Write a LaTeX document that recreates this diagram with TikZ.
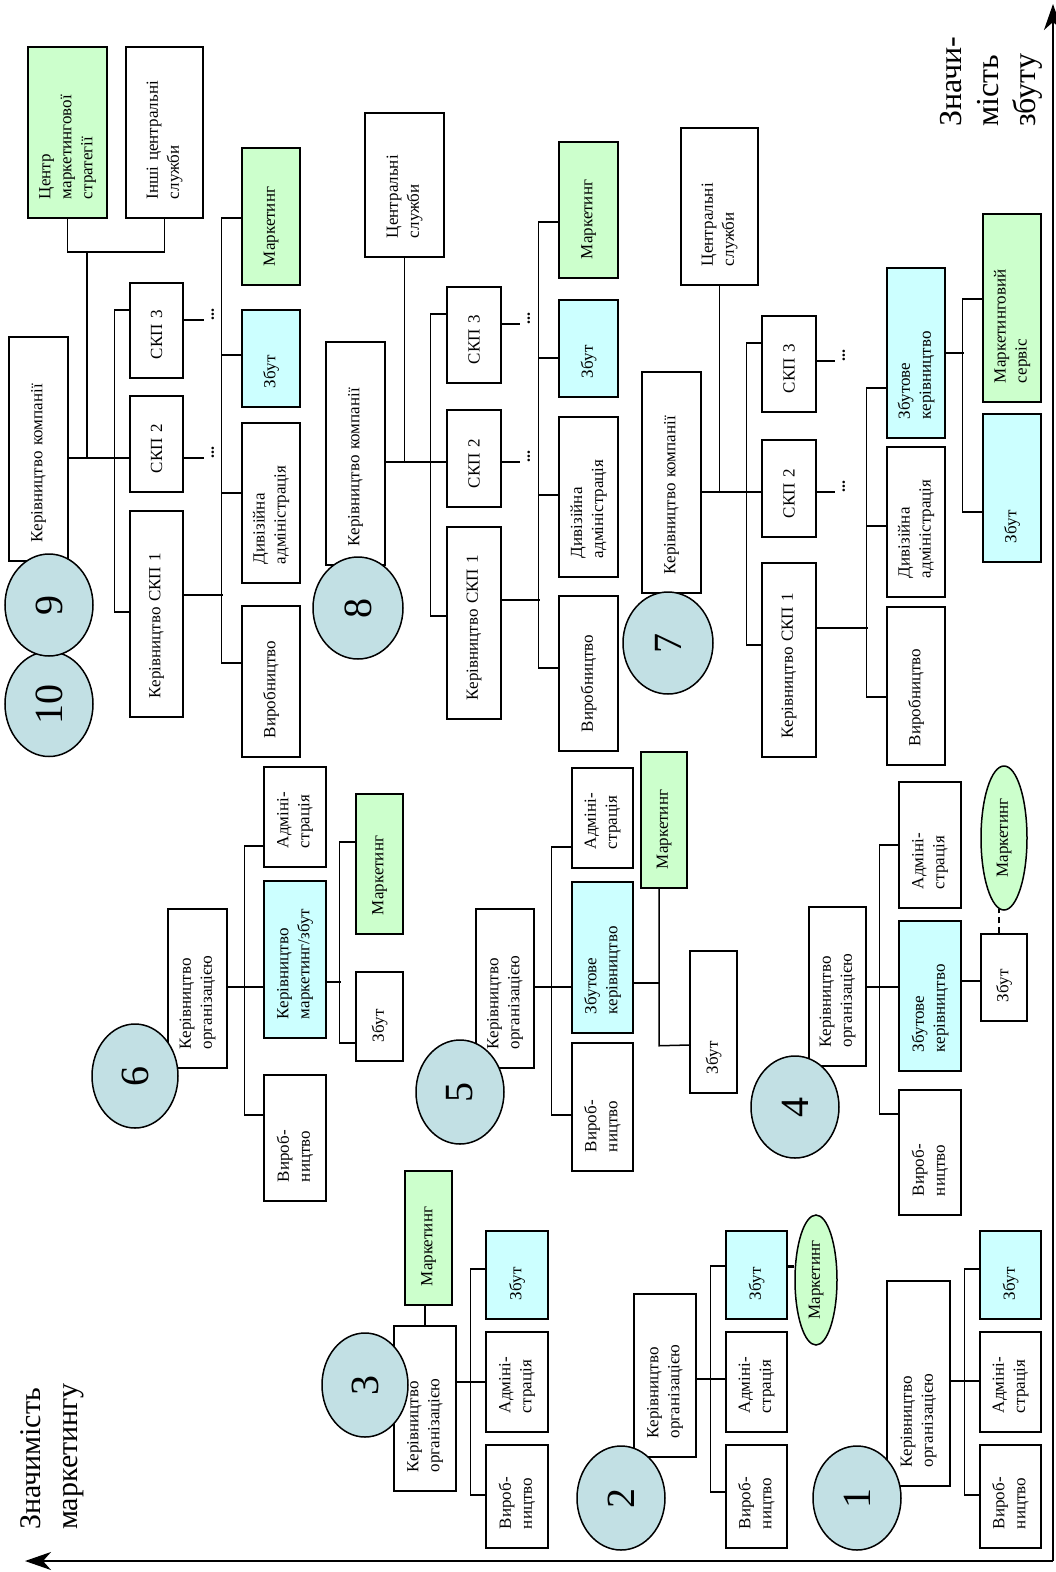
\documentclass[tikz,border=0pt]{standalone}
\usepackage{fontspec}
\setmainfont{Liberation Serif}
\usetikzlibrary{shapes.geometric,arrows.meta,calc}
\definecolor{grn}{HTML}{CCFFCC}
\definecolor{cyn}{HTML}{CCFFFF}
\definecolor{circc}{HTML}{C2E0E4}
\newcommand\bxfont{\fontsize{17}{21}\selectfont}
\newcommand\mkbox[7]{%
  \pgfmathsetmacro\bxW{#5-#3}%
  \pgfmathsetmacro\bxH{#4-#2}%
  \pgfmathsetmacro\bxT{#5-#3-38}%
  \pgfmathsetmacro\bxX{(#2+#4)/2}%
  \pgfmathsetmacro\bxY{(#3+#5)/2}%
  \node[box,#6,minimum width=\bxW pt,minimum height=\bxH pt,text width=\bxT pt] (#1) at (\bxX,\bxY) {#7};%
}
\tikzset{
  box/.style={draw, line width=1.5pt, rotate=90, align=left, inner xsep=19pt, inner ysep=0pt, font=\bxfont, fill=white},
  ln/.style={line width=1.5pt},
  circ/.style={ellipse, draw, line width=1.5pt, fill=circc, rotate=90, inner sep=0pt, font=\fontsize{40}{40}\selectfont},
  mell/.style={ellipse, draw, line width=1.5pt, fill=grn, rotate=90, inner sep=0pt, font=\bxfont},
  dots/.style={rotate=90, anchor=base west, inner sep=0pt, font=\fontsize{16}{16}\selectfont\bfseries},
  axis/.style={line width=1.8pt, -{Stealth[length=26pt,width=18pt,inset=8pt]}}
}
\begin{document}
\begin{tikzpicture}[x=1pt,y=-1pt]
\useasboundingbox (0,0) rectangle (1056,1572);
\fill[white] (0,0) rectangle (1056,1572);

% ===== Diagram 9 =====
\mkbox{c9cms}{28}{47}{107}{218}{fill=grn}{Центр\\маркетингової\\стратегії}
\mkbox{c9oth}{126}{47}{203}{218}{}{Інші центральні\\служби}
\mkbox{k9}{9}{337}{68}{561}{}{Керівництво компанії}
\mkbox{s9c}{130}{283}{183}{378}{}{СКП 3}
\mkbox{s9b}{130}{396}{183}{492}{}{СКП 2}
\mkbox{s9a}{130}{511}{183}{717}{}{Керівництво СКП 1}
\mkbox{m9}{242}{148}{300}{285}{fill=grn}{Маркетинг}
\mkbox{z9}{242}{310}{300}{407}{fill=cyn}{Збут}
\mkbox{d9}{242}{423}{300}{583}{}{Дивізійна\\адміністрація}
\mkbox{v9}{242}{606}{300}{757}{}{Виробництво}
\coordinate (j9) at (87,252);
\draw[ln] (c9cms.west) |- (j9) -| (c9oth.west);
\draw[ln] (j9) -- (j9 |- 0,458);
\draw[ln] (k9.south |- 0,458) -- (s9b.north |- 0,458);
\draw[ln] (s9c.north |- 0,310) -- ++(-15,0) |- (s9a.north |- 0,612);
\draw[ln] (s9c.south |- 0,320) -- ++(20,0);
\draw[ln] (s9b.south |- 0,458) -- ++(20,0);
\node[dots] (dt9c) at ($(s9c.south |- 0,320)+(30,1)$) {...};
\node[dots] (dt9b) at ($(s9b.south |- 0,458)+(30,1)$) {...};
\draw[ln] (s9a.south |- 0,595) -- ++(39,0);
\draw[ln] (m9.north |- 0,218) -- ++(-20,0) |- (v9.north |- 0,663);
\draw[ln] (z9.north |- 0,355) -- ++(-20,0);
\draw[ln] (d9.north |- 0,493) -- ++(-20,0);

% ===== Diagram 8 =====
\mkbox{cs8}{365}{113}{444}{257}{}{Центральні\\служби}
\mkbox{k8}{326}{342}{385}{565}{}{Керівництво компанії}
\mkbox{s8c}{447}{287}{501}{383}{}{СКП 3}
\mkbox{s8b}{447}{410}{501}{507}{}{СКП 2}
\mkbox{s8a}{447}{527}{501}{719}{}{Керівництво СКП 1}
\mkbox{m8}{559}{142}{618}{278}{fill=grn}{Маркетинг}
\mkbox{z8}{559}{300}{618}{397}{fill=cyn}{Збут}
\mkbox{d8}{559}{417}{618}{577}{}{Дивізійна\\адміністрація}
\mkbox{v8}{559}{596}{618}{751}{}{Виробництво}
\draw[ln] (cs8.west) -- (cs8.west |- 0,462);
\draw[ln] (k8.south |- 0,462) -- (s8b.north |- 0,462);
\draw[ln] (s8c.north |- 0,314) -- ++(-16,0) |- (s8a.north |- 0,616);
\draw[ln] (s8c.south |- 0,324) -- ++(18,0);
\draw[ln] (s8b.south |- 0,462) -- ++(18,0);
\node[dots] (dt8c) at ($(s8c.south |- 0,324)+(28,1)$) {...};
\node[dots] (dt8b) at ($(s8b.south |- 0,462)+(28,1)$) {...};
\draw[ln] (s8a.south |- 0,600) -- ++(38,0);
\draw[ln] (m8.north |- 0,222) -- ++(-20,0) |- (v8.north |- 0,668);
\draw[ln] (z8.north |- 0,358) -- ++(-20,0);
\draw[ln] (d8.north |- 0,495) -- ++(-20,0);

% ===== Diagram 7 =====
\mkbox{cs7}{681}{128}{758}{285}{}{Центральні\\служби}
\mkbox{k7}{642}{372}{701}{593}{}{Керівництво компанії}
\mkbox{s7c}{762}{316}{816}{412}{}{СКП 3}
\mkbox{s7b}{762}{440}{816}{537}{}{СКП 2}
\mkbox{s7a}{762}{563}{816}{757}{}{Керівництво СКП 1}
\mkbox{zk7}{887}{268}{945}{438}{fill=cyn}{Збутове\\керівництво}
\mkbox{d7}{887}{447}{945}{597}{}{Дивізійна\\адміністрація}
\mkbox{v7}{887}{607}{945}{765}{}{Виробництво}
\mkbox{ms7}{983}{214}{1041}{402}{fill=grn}{Маркетинговий\\сервіс}
\mkbox{z7}{983}{414}{1041}{562}{fill=cyn}{Збут}
\draw[ln] (cs7.west) -- (cs7.west |- 0,492);
\draw[ln] (k7.south |- 0,492) -- (s7b.north |- 0,492);
\draw[ln] (s7c.north |- 0,343) -- ++(-15,0) |- (s7a.north |- 0,645);
\draw[ln] (s7c.south |- 0,361) -- ++(18,0);
\draw[ln] (s7b.south |- 0,492) -- ++(18,0);
\node[dots] (dt7c) at ($(s7c.south |- 0,361)+(28,1)$) {...};
\node[dots] (dt7b) at ($(s7b.south |- 0,492)+(28,1)$) {...};
\draw[ln] (s7a.south |- 0,628) -- ++(51,0);
\draw[ln] (zk7.north |- 0,388) -- ++(-20,0) |- (v7.north |- 0,697);
\draw[ln] (d7.north |- 0,526) -- ++(-20,0);
\draw[ln] (zk7.south |- 0,353) -- ++(18,0);
\draw[ln] (ms7.north |- 0,299) -- ++(-20,0) |- (z7.north |- 0,512);

% ===== Diagram 6 =====
\mkbox{ko6}{168}{909}{227}{1068}{}{Керівництво\\організацією}
\mkbox{a6}{264}{767}{326}{867}{}{Адміні-\\страція}
\mkbox{km6}{264}{881}{326}{1038}{fill=cyn}{Керівництво\\маркетинг/збут}
\mkbox{v6}{264}{1075}{326}{1201}{}{Вироб-\\ництво}
\mkbox{m6}{356}{794}{403}{934}{fill=grn}{Маркетинг}
\mkbox{z6}{356}{972}{403}{1061}{}{Збут}
\draw[ln] (ko6.south |- 0,987) -- (km6.north |- 0,987);
\draw[ln] (a6.north |- 0,846) -- ++(-19,0) |- (v6.north |- 0,1115);
\draw[ln] (km6.south |- 0,982) -- ++(14,0);
\draw[ln] (m6.north |- 0,842) -- ++(-16,0) |- (z6.north |- 0,1043);

% ===== Diagram 5 =====
\mkbox{ko5}{476}{909}{534}{1068}{}{Керівництво\\організацією}
\mkbox{a5}{572}{768}{633}{868}{}{Адміні-\\страція}
\mkbox{zk5}{572}{882}{633}{1033}{fill=cyn}{Збутове\\керівництво}
\mkbox{v5}{572}{1043}{633}{1171}{}{Вироб-\\ництво}
\mkbox{m5}{641}{752}{687}{888}{fill=grn}{Маркетинг}
\mkbox{z5}{690}{951}{737}{1093}{}{Збут}
\draw[ln] (ko5.south |- 0,987) -- (zk5.north |- 0,987);
\draw[ln] (a5.north |- 0,847) -- ++(-20,0) |- (v5.north |- 0,1115);
\draw[ln] (zk5.south |- 0,983) -- ++(26,0);
\draw[ln] (m5.west) ++(-5,0) -- ++(0,157) -- (z5.north |- 0,1045);

% ===== Diagram 4 =====
\mkbox{ko4}{809}{907}{866}{1066}{}{Керівництво\\організацією}
\mkbox{a4}{899}{782}{961}{908}{}{Адміні-\\страція}
\mkbox{zk4}{899}{921}{961}{1071}{fill=cyn}{Збутове\\керівництво}
\mkbox{v4}{899}{1090}{961}{1215}{}{Вироб-\\ництво}
\mkbox{z4}{981}{934}{1027}{1021}{}{Збут}
\node[mell, minimum width=144pt, minimum height=46pt] (me4) at (1004,838) {Маркетинг};
\draw[ln] (ko4.south |- 0,987) -- (zk4.north |- 0,987);
\draw[ln] (a4.north |- 0,845) -- ++(-19,0) |- (v4.north |- 0,1114);
\draw[ln] (zk4.south |- 0,981) -- (z4.north |- 0,981);
\draw[ln, dash pattern=on 6pt off 4pt] (z4.east) ++(-5,0) -- ++(0,-24);

% ===== Diagram 3 =====
\mkbox{ko3}{394}{1326}{456}{1491}{}{Керівництво\\організацією}
\mkbox{m3}{405}{1171}{452}{1305}{fill=grn}{Маркетинг}
\mkbox{z3}{486}{1231}{548}{1319}{fill=cyn}{Збут}
\mkbox{a3}{486}{1332}{548}{1432}{}{Адміні-\\страція}
\mkbox{v3}{486}{1445}{548}{1548}{}{Вироб-\\ництво}
\draw[ln] (ko3.east) -- (ko3.east |- m3.west);
\draw[ln] (ko3.south |- 0,1382) -- (a3.north |- 0,1382);
\draw[ln] (z3.north |- 0,1269) -- ++(-15,0) |- (v3.north |- 0,1495);

% ===== Diagram 2 =====
\mkbox{ko2}{634}{1294}{696}{1457}{}{Керівництво\\організацією}
\mkbox{z2}{726}{1231}{787}{1319}{fill=cyn}{Збут}
\mkbox{a2}{726}{1332}{787}{1432}{}{Адміні-\\страція}
\mkbox{v2}{726}{1445}{787}{1548}{}{Вироб-\\ництво}
\node[mell, minimum width=130pt, minimum height=42pt] (me2) at (816,1280) {Маркетинг};
\draw[ln] (ko2.south |- 0,1379) -- (a2.north |- 0,1379);
\draw[ln] (z2.north |- 0,1266) -- ++(-15,0) |- (v2.north |- 0,1492);
\draw[line width=3pt] (z2.south |- 0,1266) -- (me2.north |- 0,1266);

% ===== Diagram 1 =====
\mkbox{ko1}{887}{1281}{950}{1486}{}{Керівництво\\організацією}
\mkbox{z1}{980}{1231}{1041}{1319}{fill=cyn}{Збут}
\mkbox{a1}{980}{1332}{1041}{1432}{}{Адміні-\\страція}
\mkbox{v1}{980}{1445}{1041}{1548}{}{Вироб-\\ництво}
\draw[ln] (ko1.south |- 0,1381) -- (a1.north |- 0,1381);
\draw[ln] (z1.north |- 0,1269) -- ++(-15,0) |- (v1.north |- 0,1495);

% ===== Circles =====
\node[circ, minimum width=105pt, minimum height=88pt] (n10) at (49,704) {10};
\node[circ, minimum width=102pt, minimum height=88pt] (n9) at (49,605) {9};
\node[circ, minimum width=102pt, minimum height=90pt] (n8) at (358,608) {8};
\node[circ, minimum width=102pt, minimum height=90pt] (n7) at (668,643) {7};
\node[circ, minimum width=104pt, minimum height=86pt] (n6) at (135,1076) {6};
\node[circ, minimum width=104pt, minimum height=88pt] (n5) at (460,1092) {5};
\node[circ, minimum width=102pt, minimum height=88pt] (n4) at (795,1107) {4};
\node[circ, minimum width=104pt, minimum height=86pt] (n3) at (365,1385) {3};
\node[circ, minimum width=104pt, minimum height=88pt] (n2) at (621,1498) {2};
\node[circ, minimum width=104pt, minimum height=88pt] (n1) at (857,1498) {1};

% ===== Axes =====
\coordinate (ax0) at (1053,1561);
\coordinate (axL) at (25,1561);
\coordinate (axT) at (1053,4);
\draw[axis] (ax0) -- (axL);
\draw[axis] (ax0) -- (axT);
\node[rotate=90, anchor=west, align=left, inner sep=0pt, font=\fontsize{30}{37}\selectfont] (lblM) at (52,1530) {Значимість\\маркетингу};
\node[rotate=90, anchor=west, align=left, inner sep=0pt, font=\fontsize{32}{37}\selectfont] (lblZ) at (991,127) {Значи-\\мість\\збуту};
\end{tikzpicture}
\end{document}
